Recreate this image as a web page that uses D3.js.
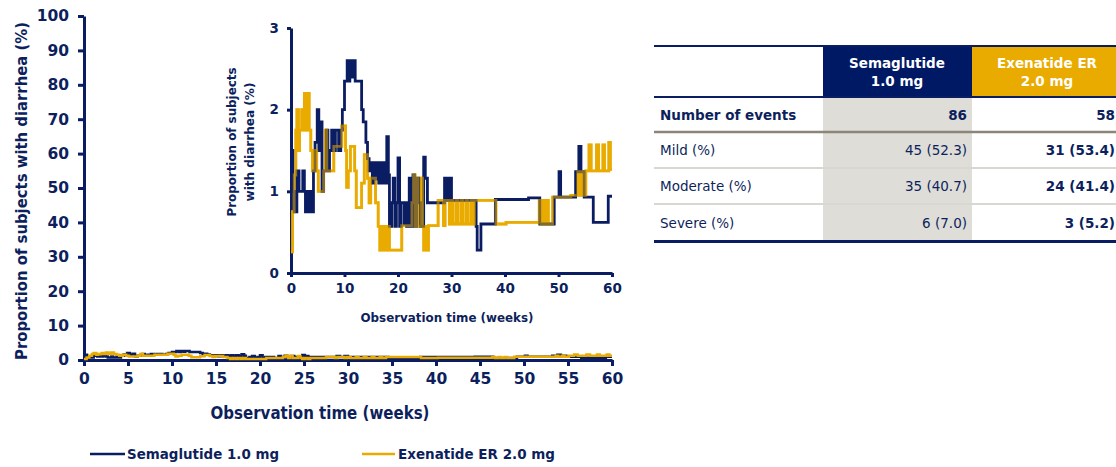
<!DOCTYPE html>
<html><head><meta charset="utf-8">
<script src="https://cdn.jsdelivr.net/npm/d3@7"></script>
<style>body{margin:0;background:#fff;overflow:hidden} svg{display:block} text{font-family:"DejaVu Sans",Verdana,sans-serif}</style>
</head><body><svg id="c" width="1116" height="467"></svg>
<script>
// ---------- data ----------
const semaWeeks  = [0,0.35,0.6,1.1,1.5,2.2,2.5,2.7,3.1,3.3,3.7,3.9,4.2,4.5,4.9,5.2,5.5,5.8,6.1,6.6,6.9,7.2,7.6,8.0,8.3,8.9,9.3,9.6,10.0,10.5,10.8,11.0,11.3,11.5,12.0,13.2,13.5,14.0,14.3,14.6,14.9,15.2,15.5,15.8,16.1,16.4,16.7,17.0,17.3,17.6,17.9,18.2,18.4,18.8,19.1,19.4,19.7,20.0,20.3,20.6,21.2,21.4,21.6,22.1,22.4,22.8,23.1,23.5,23.9,24.2,24.8,25.1,25.5,28.7,29.1,29.6,30.0,34.6,34.8,35.5,38.2,44.4,46.5,49.2,50.1,50.4,53.2,53.8,54.2,54.8,56.5,59.3,60];
const semaValues = [1.5,1.0,0.75,1.25,1.0,1.25,1.0,0.75,1.0,0.75,1.0,0.75,1.25,1.6,2.0,1.5,1.85,1.0,1.25,1.75,1.25,1.5,1.75,1.5,1.75,1.5,1.75,2.0,2.35,2.6,2.35,2.6,2.4,2.6,2.35,2.0,1.85,1.6,1.4,1.25,1.35,1.1,1.35,1.15,1.35,1.1,1.35,1.1,1.35,1.1,1.67,1.2,0.57,0.86,1.16,0.57,0.86,1.41,0.57,0.86,0.6,0.86,0.57,1.16,0.57,1.2,0.57,1.16,0.86,0.57,1.42,1.16,0.86,1.16,0.89,1.16,0.89,0.57,0.28,0.6,0.9,0.92,0.6,0.93,1.24,0.93,1.24,1.55,1.24,0.93,0.62,0.94,0.94];
const exenWeeks  = [0,0.3,0.6,0.9,1.1,1.4,1.6,2.0,2.2,2.5,2.8,3.1,3.4,3.7,4.0,4.4,4.8,5.1,6.1,6.4,6.7,8.0,9.5,10.2,10.4,10.7,11.1,11.9,12.2,13.2,13.7,14.3,14.6,14.9,15.8,16.3,16.6,16.9,17.2,17.5,17.8,18.1,18.4,20.7,22.6,22.9,23.2,23.4,23.7,24.3,24.6,24.8,25.1,25.4,25.7,27.5,28.5,28.8,29.6,29.9,30.3,30.9,31.2,31.8,32.1,32.7,33.0,33.6,33.9,34.3,38.3,40.2,46.4,46.7,47.1,47.4,47.8,48.1,48.9,52.3,53.6,53.9,54.3,54.6,55.1,55.7,56.1,57.1,57.5,58.3,58.6,59.4,59.7,60];
const exenValues = [0.26,0.75,1.2,1.75,2.0,1.5,1.75,2.0,1.75,2.2,1.75,2.2,1.75,1.5,1.25,1.5,1.25,1.0,1.25,1.75,1.25,1.55,1.8,1.5,1.05,1.25,1.55,1.25,0.8,1.1,1.45,1.16,0.86,1.16,0.86,0.57,0.28,0.57,0.28,0.57,0.28,0.57,0.28,0.58,0.86,1.2,0.57,1.16,0.57,1.16,0.57,0.28,0.57,0.28,0.58,0.89,0.58,0.89,0.6,0.89,0.6,0.89,0.6,0.89,0.6,0.89,0.6,0.89,0.6,0.89,0.6,0.62,0.89,0.6,0.89,0.6,0.89,0.6,0.93,0.95,1.24,0.95,1.24,0.95,1.25,1.57,1.25,1.57,1.25,1.57,1.25,1.6,1.27,1.27];
const seriesNames = ["Semaglutide 1.0 mg","Exenatide ER 2.0 mg"];
const mainYTicks = [0,10,20,30,40,50,60,70,80,90,100];
const mainXTicks = [0,5,10,15,20,25,30,35,40,45,50,55,60];
const insetYTicks = [0,1,2,3];
const insetXTicks = [0,10,20,30,40,50,60];
const tableHeaders = [["Semaglutide","1.0 mg"],["Exenatide ER","2.0 mg"]];
const tableRows = ["Number of events","Mild (%)","Moderate (%)","Severe (%)"];
const semaCells = ["86","45 (52.3)","35 (40.7)","6 (7.0)"];
const exenCells = ["58","31 (53.4)","24 (41.4)","3 (5.2)"];

// ---------- style ----------
const navy = "#0b1d62", gold = "#e9ab00", txt = "#0d1f5c";
const svg = d3.select("#c");
const sema = semaWeeks.map((w,i)=>({x:w,y:semaValues[i]}));
const exen = exenWeeks.map((w,i)=>({x:w,y:exenValues[i]}));
const fmt = d3.format("d");

function fitText(sel, len){ sel.each(function(){ if(this.getComputedTextLength()>0){ d3.select(this).attr("textLength",len).attr("lengthAdjust","spacingAndGlyphs"); } }); }

function styleAxis(g, fs){
  g.select(".domain").attr("stroke",navy).attr("stroke-width",3);
  g.selectAll(".tick line").attr("stroke",navy).attr("stroke-width",3);
  g.selectAll(".tick text").attr("fill",txt).attr("font-size",fs).attr("font-weight","bold").style("font-family","'DejaVu Sans',Verdana,sans-serif");
}

// ---------- main chart ----------
const mx = d3.scaleLinear().domain([0,60]).range([84,612]);
const my = d3.scaleLinear().domain([0,100]).range([360,16]);
const gmy = svg.append("g").attr("transform","translate(84,0)")
  .call(d3.axisLeft(my).tickValues(mainYTicks).tickFormat(fmt).tickSize(6).tickSizeOuter(0).tickPadding(9));
styleAxis(gmy, 15.5);
const gmx = svg.append("g").attr("transform","translate(0,360)")
  .call(d3.axisBottom(mx).tickValues(mainXTicks).tickFormat(fmt).tickSize(6).tickSizeOuter(0).tickPadding(7));
styleAxis(gmx, 15.5);
const mline = d3.line().x(d=>mx(d.x)).y(d=>my(d.y)).curve(d3.curveStepAfter);
svg.append("path").datum(sema).attr("d",mline).attr("fill","none").attr("stroke",navy).attr("stroke-width",2.5);
svg.append("path").datum(exen).attr("d",mline).attr("fill","none").attr("stroke",gold).attr("stroke-width",2.5);

svg.append("text").attr("transform","translate(27,191) rotate(-90)").attr("text-anchor","middle")
  .attr("font-size",16.5).attr("font-weight","bold").attr("fill",txt)
  .text("Proportion of subjects with diarrhea (%)").call(fitText,338);
svg.append("text").attr("x",320).attr("y",419).attr("text-anchor","middle")
  .attr("font-size",17).attr("font-weight","bold").attr("fill",txt)
  .text("Observation time (weeks)").call(fitText,219);

// ---------- inset ----------
const ix = d3.scaleLinear().domain([0,60]).range([291,612]);
const iy = d3.scaleLinear().domain([0,3]).range([273,28]);
const giy = svg.append("g").attr("transform","translate(291,0)")
  .call(d3.axisLeft(iy).tickValues(insetYTicks).tickFormat(fmt).tickSize(4).tickSizeOuter(0).tickPadding(8));
styleAxis(giy, 13.5);
const gix = svg.append("g").attr("transform","translate(0,273)")
  .call(d3.axisBottom(ix).tickValues(insetXTicks).tickFormat(fmt).tickSize(4).tickSizeOuter(0).tickPadding(6));
styleAxis(gix, 13.5);
const iline = d3.line().x(d=>ix(d.x)).y(d=>iy(d.y)).curve(d3.curveStepAfter);
svg.append("path").datum(exen).attr("d",iline).attr("fill","none").attr("stroke",gold).attr("stroke-width",2.8);
svg.append("path").datum(sema).attr("d",iline).attr("fill","none").attr("stroke",navy).attr("stroke-width",2.8);
svg.append("path").datum(exen).attr("d",iline).attr("fill","none").attr("stroke",gold).attr("stroke-width",2.8).attr("opacity",0.55);

svg.append("text").attr("transform","translate(236,142) rotate(-90)").attr("text-anchor","middle")
  .attr("font-size",12).attr("font-weight","bold").attr("fill",txt)
  .text("Proportion of subjects").call(fitText,149);
svg.append("text").attr("transform","translate(254,142) rotate(-90)").attr("text-anchor","middle")
  .attr("font-size",12).attr("font-weight","bold").attr("fill",txt)
  .text("with diarrhea (%)").call(fitText,119);
svg.append("text").attr("x",447).attr("y",322).attr("text-anchor","middle")
  .attr("font-size",12.5).attr("font-weight","bold").attr("fill",txt)
  .text("Observation time (weeks)").call(fitText,173);

// ---------- legend ----------
const legX = [[90,125,127,152],[362,395,398,157]];
seriesNames.forEach((n,i)=>{
  svg.append("line").attr("x1",legX[i][0]).attr("x2",legX[i][1]).attr("y1",454).attr("y2",454)
    .attr("stroke",i?gold:navy).attr("stroke-width",2.5);
  svg.append("text").attr("x",legX[i][2]).attr("y",459).attr("font-size",13.5).attr("font-weight","bold")
    .attr("fill",txt).text(n).call(fitText,legX[i][3]);
});

// ---------- table ----------
const tx0 = 654, c1 = 823, c2 = 972, tx1 = 1120;
const rowTops = [98,133,169,205], rowBot = [131,167,203,240];
svg.append("rect").attr("x",c1).attr("y",46).attr("width",c2-c1).attr("height",50).attr("fill","#001965");
svg.append("rect").attr("x",c2).attr("y",46).attr("width",tx1-c2).attr("height",50).attr("fill",gold);
svg.append("rect").attr("x",c1).attr("y",98).attr("width",c2-c1).attr("height",142).attr("fill","#deddd8");
svg.append("line").attr("x1",tx0).attr("x2",tx1).attr("y1",46).attr("y2",46).attr("stroke",navy).attr("stroke-width",2);
svg.append("line").attr("x1",tx0).attr("x2",tx1).attr("y1",97).attr("y2",97).attr("stroke",navy).attr("stroke-width",2);
svg.append("line").attr("x1",tx0).attr("x2",tx1).attr("y1",132).attr("y2",132).attr("stroke","#8d8579").attr("stroke-width",2.5);
svg.append("line").attr("x1",tx0).attr("x2",tx1).attr("y1",168).attr("y2",168).attr("stroke","#d9d7d1").attr("stroke-width",2);
svg.append("line").attr("x1",tx0).attr("x2",tx1).attr("y1",204).attr("y2",204).attr("stroke","#d9d7d1").attr("stroke-width",2);
svg.append("line").attr("x1",tx0).attr("x2",tx1).attr("y1",241.5).attr("y2",241.5).attr("stroke",navy).attr("stroke-width",3);
[[897],[1047]].forEach((c,i)=>{
  tableHeaders[i].forEach((t,j)=>{
    svg.append("text").attr("x",c[0]).attr("y",68+j*18).attr("text-anchor","middle").attr("font-size",13.5)
      .attr("font-weight","bold").attr("fill","#fff").text(t);
  });
});
tableRows.forEach((r,i)=>{
  const yc = (rowTops[i]+rowBot[i])/2 + 5;
  svg.append("text").attr("x",660).attr("y",yc).attr("font-size",13.5).attr("font-weight",i===0?"bold":"normal").attr("fill",txt).text(r);
  svg.append("text").attr("x",967).attr("y",yc).attr("text-anchor","end").attr("font-size",13.5).attr("font-weight",i===0?"bold":"normal").attr("fill",txt).text(semaCells[i]);
  svg.append("text").attr("x",1115).attr("y",yc).attr("text-anchor","end").attr("font-size",13.5).attr("font-weight","bold").attr("fill",txt).text(exenCells[i]);
});
</script></body></html>
